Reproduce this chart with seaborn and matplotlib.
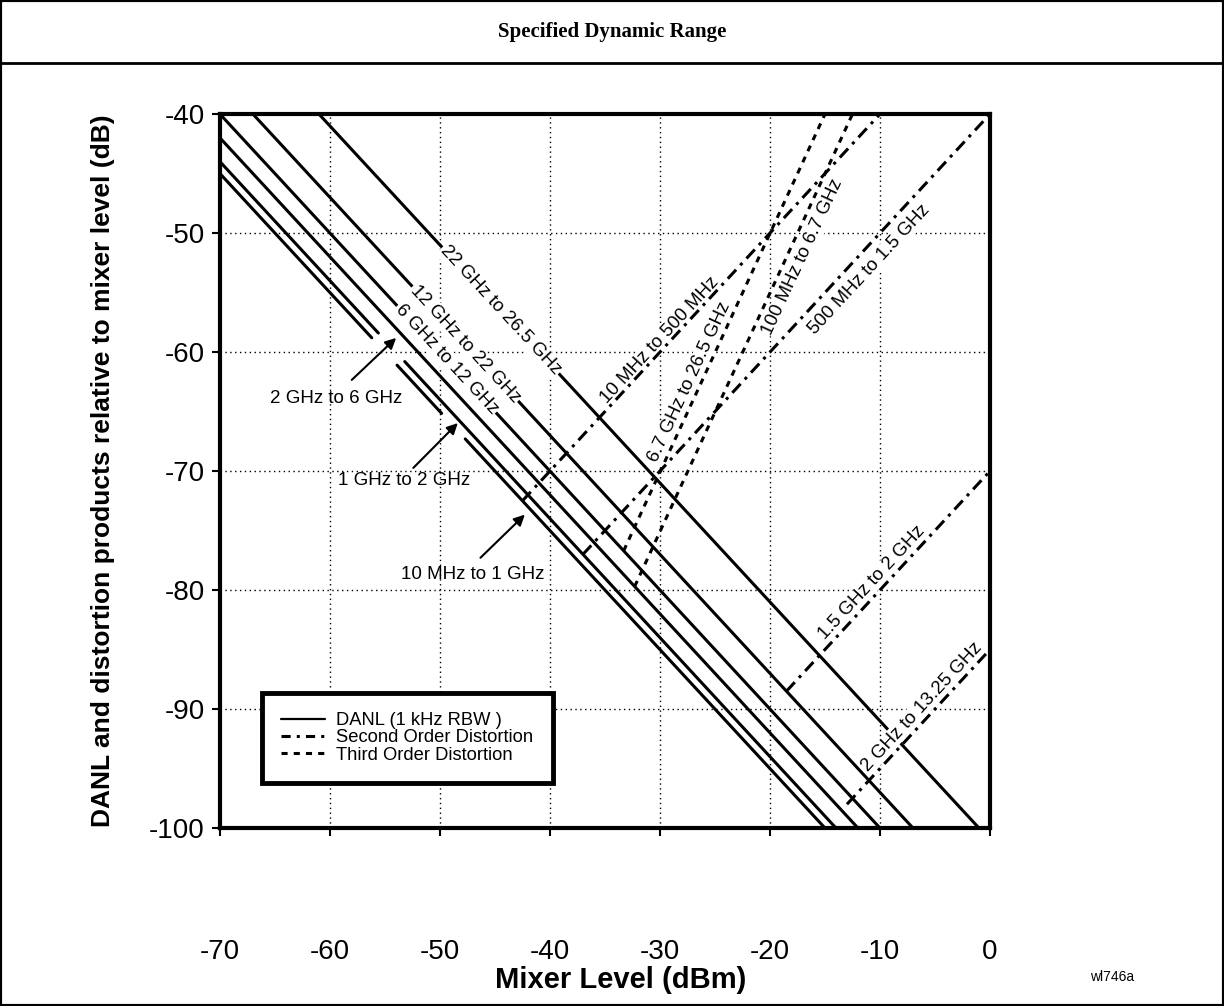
import pandas as pd
import seaborn as sns
import matplotlib.pyplot as plt
from matplotlib.lines import Line2D
from matplotlib.patches import Rectangle

sns.set_theme(style='white')
plt.rcParams['font.family'] = ['Liberation Sans', 'DejaVu Sans']
plt.rcParams['axes.unicode_minus'] = False
plt.rcParams['text.color'] = 'black'
plt.rcParams['axes.labelcolor'] = 'black'

# DANL (1 kHz RBW) segments, mixer level (dBm) -> level rel. to mixer (dB)
danl_band = ['22 GHz to 26.5 GHz', '12 GHz to 22 GHz', '6 GHz to 12 GHz', '2 GHz to 6 GHz',
             '1 GHz to 2 GHz', '1 GHz to 2 GHz',
             '10 MHz to 1 GHz', '10 MHz to 1 GHz', '10 MHz to 1 GHz']
danl_x0 = [-61, -67, -70, -70, -70, -53.2, -70, -53.9, -47.7]
danl_y0 = [-40, -40, -40, -42, -44, -60.8, -45, -61.1, -67.3]
danl_x1 = [-1, -7, -10, -12, -55.6, -14, -56.2, -49.85, -15]
danl_y1 = [-100, -100, -100, -100, -58.4, -100, -58.8, -65.15, -100]

# second order distortion
so_band = ['10 MHz to 500 MHz', '500 MHz to 1.5 GHz', '1.5 GHz to 2 GHz', '2 GHz to 13.25 GHz']
so_x0 = [-42.5, -37, -18.5, -13]
so_y0 = [-72.5, -77, -88.5, -98]
so_x1 = [-10, 0, 0, 0]
so_y1 = [-40, -40, -70, -85]

# third order distortion
to_band = ['6.7 GHz to 26.5 GHz', '100 MHz to 6.7 GHz']
to_x0 = [-33.3, -32.3]
to_y0 = [-76.7, -79.7]
to_x1 = [-15, -12.5]
to_y1 = [-40, -40]

rows = []
seg = 0
for kind, x0s, y0s, x1s, y1s in [('danl', danl_x0, danl_y0, danl_x1, danl_y1),
                                 ('second', so_x0, so_y0, so_x1, so_y1),
                                 ('third', to_x0, to_y0, to_x1, to_y1)]:
    for x0, y0, x1, y1 in zip(x0s, y0s, x1s, y1s):
        rows.append({'x': x0, 'y': y0, 'seg': seg, 'kind': kind})
        rows.append({'x': x1, 'y': y1, 'seg': seg, 'kind': kind})
        seg += 1
df = pd.DataFrame(rows)

dash_map = {'danl': '', 'second': (4, 2, 1, 2), 'third': (2, 2)}

fig = plt.figure(figsize=(12.24, 10.06), dpi=100)
ax = fig.add_axes([0.1797, 0.1769, 0.6291, 0.7097])

sns.lineplot(data=df, x='x', y='y', units='seg', estimator=None, style='kind',
             dashes=dash_map, color='black', linewidth=2.2, sort=False,
             legend=False, ax=ax, zorder=3)

ax.set_xlim(-70, 0)
ax.set_ylim(-100, -40)
ax.set_xticks(range(-70, 1, 10))
ax.set_yticks(range(-100, -39, 10))
ax.set_axisbelow(True)
ax.grid(True, color='black', linestyle=(0, (1, 2.5)), linewidth=1)
for s in ax.spines.values():
    s.set_visible(True)
    s.set_color('black')
    s.set_linewidth(3)
ax.tick_params(bottom=True, left=True, direction='out', length=6, width=1.5,
               labelsize=20, colors='black')
ax.tick_params(axis='x', pad=74)
ax.tick_params(axis='y', pad=5)
ax.set_xlabel('Mixer Level (dBm)', fontsize=21, fontweight='bold', va='center')
ax.xaxis.set_label_coords(0.52, -(980 - 828) / 714)
ax.set_ylabel('DANL and distortion products relative to mixer level (dB)',
              fontsize=19, fontweight='bold', va='center')
ax.yaxis.set_label_coords(-(220 - 103) / 770, 0.5)

lab = dict(fontsize=13.5, ha='center', va='center', transform_rotates_text=True,
           rotation_mode='anchor')
box = dict(facecolor='white', edgecolor='none', pad=1.0)

# DANL labels on the lines
ax.text(-44.5, -56.5, '22 GHz to 26.5 GHz', rotation=-45, bbox=box, zorder=5, **lab)
ax.text(-47.7, -59.3, '12 GHz to 22 GHz', rotation=-45, bbox=box, zorder=5, **lab)
ax.text(-49.4, -60.6, '6 GHz to 12 GHz', rotation=-45, bbox=box, zorder=5, **lab)

# arrows for the lower bands
arrow = dict(arrowstyle='-|>', color='black', lw=1.5, mutation_scale=16)
ax.text(-59.4, -63.9, '2 GHz to 6 GHz', fontsize=13.5, ha='center', va='center')
ax.annotate('', xy=(-53.8, -58.65), xytext=(-58.2, -62.5), arrowprops=arrow)
ax.text(-53.3, -70.8, '1 GHz to 2 GHz', fontsize=13.5, ha='center', va='center')
ax.annotate('', xy=(-48.2, -65.8), xytext=(-52.6, -69.9), arrowprops=arrow)
ax.text(-47.0, -78.7, '10 MHz to 1 GHz', fontsize=13.5, ha='center', va='center')
ax.annotate('', xy=(-42.1, -73.5), xytext=(-46.5, -77.45), arrowprops=arrow)

# distortion labels beside the lines
box2 = dict(facecolor='white', edgecolor='none', pad=0.5)
ax.text(-30.0, -59.0, '10 MHz to 500 MHz', rotation=45, bbox=box2, zorder=2, **lab)
ax.text(-11.0, -53.1, '500 MHz to 1.5 GHz', rotation=45, bbox=box2, zorder=2, **lab)
ax.text(-10.7, -79.4, '1.5 GHz to 2 GHz', rotation=45, bbox=box2, zorder=2, **lab)
ax.text(-6.2, -89.8, '2 GHz to 13.25 GHz', rotation=45, bbox=box2, zorder=4, **lab)
ax.text(-27.3, -62.5, '6.7 GHz to 26.5 GHz', rotation=63.4, bbox=box2, zorder=2, **lab)
ax.text(-17.0, -52.0, '100 MHz to 6.7 GHz', rotation=63.4, bbox=box2, zorder=2, **lab)

handles = [Line2D([], [], color='black', lw=1.6, ls='-'),
           Line2D([], [], color='black', lw=2.2, dashes=(3, 2, 1, 2)),
           Line2D([], [], color='black', lw=2.2, dashes=(2, 2))]
leg = ax.legend(handles, ['DANL (1 kHz RBW )', 'Second Order Distortion', 'Third Order Distortion'],
                loc='lower left', bbox_to_anchor=(0.0545, 0.063), borderaxespad=0,
                fontsize=13.2, handlelength=2.4, handletextpad=0.6, labelspacing=0.02,
                fancybox=False, framealpha=1, edgecolor='black', borderpad=1.05)
leg.get_frame().set_linewidth(3.5)
leg.set_zorder(6)

fig.text(0.5, 1 - 32 / 1006, 'Specified Dynamic Range', ha='center', va='center',
         fontsize=15, fontweight='bold', family='Liberation Serif')
fig.text(1112 / 1224, 1 - 977 / 1006, 'wl746a', ha='center', va='center', fontsize=10)
fig.add_artist(Line2D([0, 1], [1 - 63 / 1006, 1 - 63 / 1006], transform=fig.transFigure,
                      color='black', lw=2))
fig.add_artist(Rectangle((0, 0), 1, 1, transform=fig.transFigure, fill=False,
                         edgecolor='black', lw=3))

fig.savefig('out.png', dpi=100)
